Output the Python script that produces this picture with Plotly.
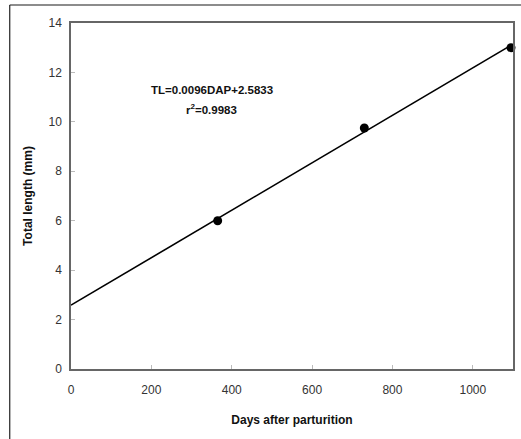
import plotly.graph_objects as go

days = [365, 730, 1095]
total_length = [6.0, 9.75, 13.0]
slope = 0.0096
intercept = 2.5833
line_x = [0, 1095]
line_y = [intercept + slope * x for x in line_x]

x_ticks = [0, 200, 400, 600, 800, 1000]
y_ticks = [0, 2, 4, 6, 8, 10, 12, 14]

FONT = "Liberation Sans, Arial"

fig = go.Figure()
fig.add_trace(go.Scatter(x=line_x, y=line_y, mode="lines",
                         line=dict(color="black", width=1.6), showlegend=False, cliponaxis=False))
fig.add_trace(go.Scatter(x=days, y=total_length, mode="markers",
                         marker=dict(color="black", size=9), showlegend=False, cliponaxis=False))

fig.add_annotation(x=350, y=11.29, xref="x", yref="y", showarrow=False,
                   text="<b>TL=0.0096DAP+2.5833</b>",
                   font=dict(family=FONT, size=11.5, color="#111"))
fig.add_annotation(x=350, y=10.52, xref="x", yref="y", showarrow=False,
                   text="<b>r<sup>2</sup>=0.9983</b>",
                   font=dict(family=FONT, size=11.5, color="#111"))

axis_common = dict(showgrid=False, zeroline=False, showline=True, linecolor="#666", linewidth=1.5,
                   mirror=True, ticks="inside", ticklen=4, tickcolor="#bbb", tickwidth=1,
                   tickfont=dict(family=FONT, size=12, color="#333"))

fig.update_xaxes(range=[0, 1100], tickvals=x_ticks, ticklabelstandoff=9,
                 title=dict(text="<b>Days after parturition</b>", standoff=19,
                            font=dict(family=FONT, size=12, color="#111")),
                 **axis_common)
fig.update_yaxes(range=[0, 14], tickvals=y_ticks, ticklabelstandoff=5,
                 title=dict(text="<b>Total length (mm)</b>", standoff=13,
                            font=dict(family=FONT, size=12, color="#111")),
                 **axis_common)

fig.add_shape(type="line", xref="paper", yref="paper", x0=-0.1386, x1=1.2, y0=1.052, y1=1.052,
              line=dict(color="#666", width=1.5), layer="above")
fig.add_shape(type="line", xref="paper", yref="paper", x0=-0.1386, x1=-0.1386, y0=1.052, y1=-0.3,
              line=dict(color="#222", width=1.2), layer="above")

fig.update_layout(width=521, height=439, margin=dict(l=71, r=6, t=23, b=70),
                  plot_bgcolor="white", paper_bgcolor="white")

fig.write_html("out.html", config={"displayModeBar": False},
               post_script="document.body.style.margin='0';document.body.style.overflow='hidden';")
